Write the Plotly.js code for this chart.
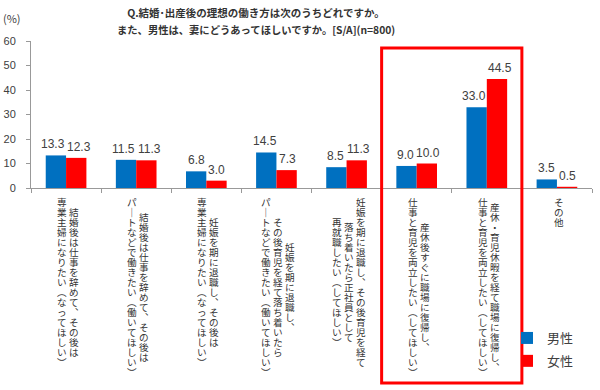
<!DOCTYPE html>
<html>
<head>
<meta charset="utf-8">
<script src="https://cdn.plot.ly/plotly-3.0.1.min.js"></script>
<style>html,body{margin:0;padding:0;background:#fff;}#chart{width:600px;height:390px;}</style>
</head>
<body>
<div id="chart"></div>
<script>
// ---- data ----
const labelColumns = [
  ["結婚後は仕事を辞めて、その後は", "専業主婦になりたい（なってほしい）"],
  ["結婚後は仕事を辞めて、その後は", "パートなどで働きたい（働いてほしい）"],
  ["妊娠を期に退職し、その後は", "専業主婦になりたい（なってほしい）"],
  ["妊娠を期に退職し、", "その後育児を経て落ち着いたら", "パートなどで働きたい（働いてほしい）"],
  ["妊娠を期に退職し、その後育児を経て", "落ち着いたら正社員として", "再就職したい（してほしい）"],
  ["産休後すぐに職場に復帰し、", "仕事と育児を両立したい（してほしい）"],
  ["産休・育児休暇を経て職場に復帰し、", "仕事と育児を両立したい（してほしい）"],
  ["その他"]
];
const categories = labelColumns.map(c => c.join(""));
const seriesNames = ["男性", "女性"];
const maleValues = [13.3, 11.5, 6.8, 14.5, 8.5, 9.0, 33.0, 3.5];
const femaleValues = [12.3, 11.3, 3.0, 7.3, 11.3, 10.0, 44.5, 0.5];
const titleLines = ["Q.結婚･出産後の理想の働き方は次のうちどれですか。", "また、男性は、妻にどうあってほしいですか。[S/A](n=800)"];
const yUnit = "(%)";
const highlightRange = [5, 6]; // highlighted category indices

// ---- layout constants ----
const W = 600, H = 390;
const M = {l: 31, r: 8, t: 41, b: 202};
const baseY = H - M.b;          // pixel y of plot bottom
const plotW = W - M.l - M.r;
const plotH = H - M.t - M.b;
const catPx = plotW / categories.length;
const BARGAP = 0.42;
const barPx = catPx * (1 - BARGAP) / 2;
const JP = "Noto Sans CJK JP";
const textCol = "#404040";
const colors = ["#0070C0", "#FF0000"];

const traces = [maleValues, femaleValues].map((vals, k) => ({
  type: "bar", name: seriesNames[k], x: categories, y: vals,
  marker: {color: colors[k]}, hoverinfo: "skip", legendgroup: "g" + k
}));

const annotations = [];

// value labels above bars (nudged apart when neighbours would collide)
const LBL_SIZE = 12;
function lblW(s) { let w = 0; for (const ch of s) w += ch === "." ? LBL_SIZE * 0.278 : LBL_SIZE * 0.556; return w; }
categories.forEach((c, i) => {
  const a = maleValues[i].toFixed(1), b = femaleValues[i].toFixed(1);
  const need = (lblW(a) + lblW(b)) / 2 + 3;
  const extra = Math.max(0, need - barPx) / 2;
  [[a, maleValues[i], -barPx / 2 - extra], [b, femaleValues[i], barPx / 2 + extra]].forEach(([t, v, xs]) => {
    annotations.push({
      xref: "x", yref: "y", x: i, y: v, xshift: xs, yshift: 2,
      text: t, showarrow: false, xanchor: "center", yanchor: "bottom",
      font: {family: "Liberation Sans, Arial", size: LBL_SIZE, color: textCol}
    });
  });
});

// vertical (tategaki) category labels: one annotation per column, columns right-to-left
const vertMap = {"（": "︵", "）": "︶", "、": "︑", "ー": "｜"};
const BASE_FS = 7.7, CHAR_FS = 9.6;
const STEP = BASE_FS * 1.3, BLOCK_TOP = 198, COL_GAP = 12;
labelColumns.forEach((cols, ci) => {
  const n = cols.length;
  const maxLen = Math.max(...cols.map(s => [...s].length));
  cols.forEach((col, i) => {
    const chars = [...col];
    const xs = 2 + ((n - 1) / 2 - i) * COL_GAP;
    const top = BLOCK_TOP + (maxLen - chars.length) * STEP / 2;
    annotations.push({
      xref: "x", yref: "paper", x: ci, y: 0, xshift: xs, yshift: baseY - top + 4,
      text: chars.map(ch => '<span style="font-size:' + CHAR_FS + 'px">' + (vertMap[ch] || ch) + '</span>').join("<br>"),
      showarrow: false, xanchor: "center", yanchor: "top", align: "center", borderpad: 0,
      font: {family: JP, size: BASE_FS, color: "#333"}
    });
  });
});

annotations.push({
  xref: "paper", yref: "paper", x: (12 - M.l) / plotW, y: (baseY - 18) / plotH,
  text: yUnit, showarrow: false, xanchor: "center", yanchor: "middle",
  font: {family: JP, size: 11, color: textCol}
});
// second title line
annotations.push({
  xref: "paper", yref: "paper", x: (256 - M.l) / plotW, y: (baseY - 30) / plotH,
  text: titleLines[1], showarrow: false, xanchor: "center", yanchor: "middle",
  font: {family: JP, size: 10.3, color: "#333", weight: "bold"}
});

const layout = {
  width: W, height: H, margin: M,
  paper_bgcolor: "#fff", plot_bgcolor: "#fff",
  font: {family: JP, color: textCol},
  title: {
    text: titleLines[0],
    font: {family: JP, size: 10.5, color: "#333", weight: "bold"},
    xref: "container", x: 256 / W, xanchor: "center",
    yref: "container", y: 1 - 13 / H, yanchor: "middle", pad: {t: 0, b: 0}
  },
  barmode: "group", bargap: BARGAP, bargroupgap: 0,
  showlegend: true,
  legend: {
    x: (507 - M.l) / plotW, xanchor: "left",
    y: (baseY - 323) / plotH, yanchor: "top",
    font: {family: JP, size: 13, color: textCol}, tracegroupgap: 3, bgcolor: "rgba(0,0,0,0)"
  },
  xaxis: {
    type: "category", showline: true, linecolor: "#999", linewidth: 1,
    ticks: "outside", tickson: "boundaries", ticklen: 4, tickcolor: "#999",
    showticklabels: false, showgrid: false, zeroline: false, range: [-0.5, 7.5]
  },
  yaxis: {
    range: [0, 60], dtick: 10, showline: true, linecolor: "#999", linewidth: 1,
    ticks: "outside", ticklen: 4, tickcolor: "#999", showgrid: false, zeroline: false,
    tickfont: {family: "Liberation Sans, Arial", size: 11, color: textCol}, ticklabelstandoff: 8
  },
  shapes: [{
    type: "rect", xref: "x", yref: "paper",
    x0: highlightRange[0] - 0.5, x1: highlightRange[1] + 0.5,
    y0: (baseY - 383) / plotH, y1: (baseY - 48) / plotH,
    line: {color: "#FF0000", width: 3}, fillcolor: "rgba(0,0,0,0)", layer: "above"
  }],
  annotations: annotations
};

Plotly.newPlot("chart", traces, layout, {staticPlot: true, displayModeBar: false});
</script>
</body>
</html>
